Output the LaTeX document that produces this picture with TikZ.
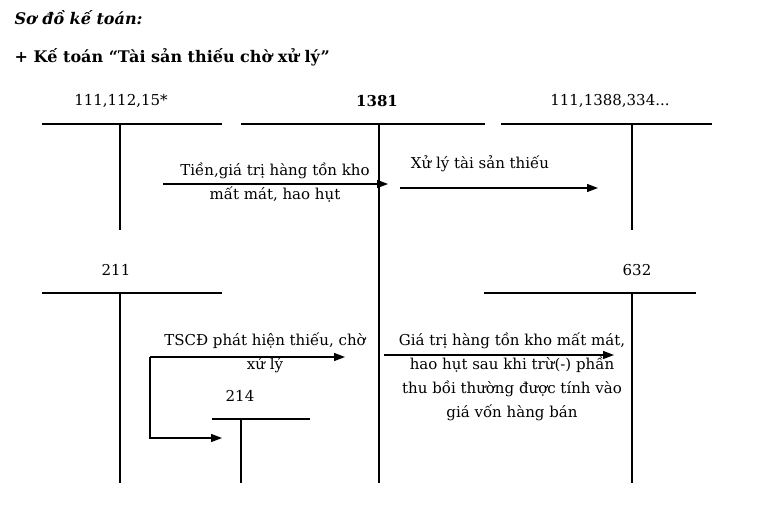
\documentclass[tikz,border=0pt]{standalone}
\usepackage{fontspec}
\setmainfont{DejaVu Serif}
\usetikzlibrary{positioning,arrows.meta}
\tikzset{
  acct/.style={font=\fontsize{15}{17}\selectfont},
  lbl/.style={font=\fontsize{15}{24}\selectfont, align=center},
  tline/.style={line width=1.6pt},
  flow/.style={line width=1.3pt, -{Triangle[length=11pt,width=8pt]}}
}
\begin{document}
\begin{tikzpicture}[x=1pt, y=-1pt]
  \useasboundingbox (0,0) rectangle (762,518);

  % Headings
  \node[anchor=west, font=\fontsize{16}{18}\selectfont\bfseries\itshape] (h1) at (11,18) {Sơ đồ kế toán:};
  \node[anchor=west, font=\fontsize{16}{18}\selectfont\bfseries] (h2) at (11,57) {+ Kế toán “Tài sản thiếu chờ xử lý”};

  % T-accounts, top row
  \node[acct] (a111) at (121,101) {111,112,15*};
  \coordinate (a111l) at (42,124); \coordinate (a111r) at (222,124);
  \coordinate (a111t) at (120,124); \coordinate (a111b) at (120,230);
  \node[acct, font=\fontsize{15}{17}\selectfont\bfseries] (a1381) at (377,101) {1381};
  \coordinate (a1381l) at (241,124); \coordinate (a1381r) at (485,124);
  \coordinate (a1381t) at (379,124); \coordinate (a1381b) at (379,483);
  \node[acct] (a334) at (610,101) {111,1388,334...};
  \coordinate (a334l) at (501,124); \coordinate (a334r) at (712,124);
  \coordinate (a334t) at (632,124); \coordinate (a334b) at (632,230);

  % T-accounts, lower row
  \node[acct] (a211) at (116,270) {211};
  \coordinate (a211l) at (42,293); \coordinate (a211r) at (222,293);
  \coordinate (a211t) at (120,293); \coordinate (a211b) at (120,483);
  \node[acct] (a632) at (637,270) {632};
  \coordinate (a632l) at (484,293); \coordinate (a632r) at (696,293);
  \coordinate (a632t) at (632,293); \coordinate (a632b) at (632,483);
  \node[acct] (a214) at (240,396) {214};
  \coordinate (a214l) at (212,419); \coordinate (a214r) at (310,419);
  \coordinate (a214t) at (241,419); \coordinate (a214b) at (241,483);

  \foreach \a in {a111,a1381,a334,a211,a632,a214}
    \draw[tline] (\a l) -- (\a r) (\a t) -- (\a b);

  % Entries
  \coordinate (s1) at (163,184); \coordinate (e1) at (388,184);
  \draw[flow] (s1) -- (e1);
  \node[lbl] (t1) at (275,183) {Tiền,giá trị hàng tồn kho\\mất mát, hao hụt};

  \coordinate (s2) at (400,188); \coordinate (e2) at (598,188);
  \draw[flow] (s2) -- (e2);
  \node[lbl] (t2) at (480,164) {Xử lý tài sản thiếu};

  \coordinate (s3) at (150,357); \coordinate (e3) at (345,357);
  \coordinate (e4) at (222,438);
  \draw[flow] (s3) -- (e3);
  \draw[flow] (s3) |- (e4);
  \node[lbl] (t3) at (265,353) {TSCĐ phát hiện thiếu, chờ\\xử lý};

  \coordinate (s5) at (384,355); \coordinate (e5) at (614,355);
  \draw[flow] (s5) -- (e5);
  \node[lbl] (t5) at (512,377) {Giá trị hàng tồn kho mất mát,\\hao hụt sau khi trừ(-) phần\\thu bồi thường được tính vào\\giá vốn hàng bán};
\end{tikzpicture}
\end{document}
